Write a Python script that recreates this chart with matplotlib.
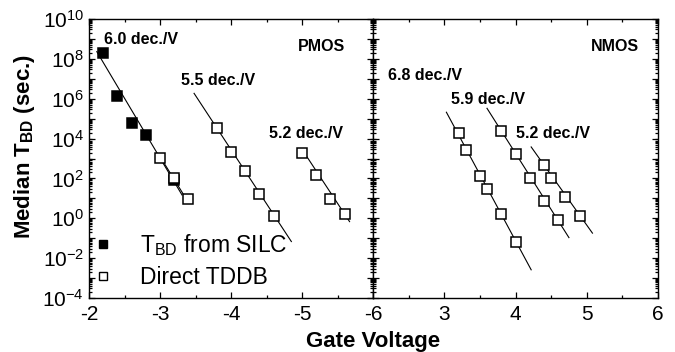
import math
import matplotlib
matplotlib.use("Agg")
import matplotlib.pyplot as plt
from matplotlib.ticker import LogLocator, FixedLocator, FuncFormatter, MultipleLocator, NullFormatter

plt.rcParams['font.family'] = ['Liberation Sans', 'DejaVu Sans']
plt.rcParams['mathtext.fontset'] = 'custom'
plt.rcParams['mathtext.rm'] = 'Liberation Sans'
plt.rcParams['mathtext.bf'] = 'Liberation Sans:bold'
plt.rcParams['mathtext.it'] = 'Liberation Sans:italic'

# ---------------- data ----------------
# PMOS, T_BD from SILC (filled)
pm_silc_v = [-2.2, -2.4, -2.6, -2.8, -3.2]
pm_silc_t = [1.9e8, 1.4e6, 6.0e4, 1.45e4, 80]
# PMOS, direct TDDB (open)
pm_d1_v = [-3.0, -3.2, -3.4]
pm_d1_t = [1.07e3, 110, 9.3]
pm_d2_v = [-3.8, -4.0, -4.2, -4.4, -4.6]
pm_d2_t = [3.4e4, 2.2e3, 230, 16.6, 1.3]
pm_d3_v = [-5.0, -5.2, -5.4, -5.6]
pm_d3_t = [1.9e3, 155, 8.9, 1.6]
# NMOS, direct TDDB (open)
nm_d1_v = [3.2, 3.3, 3.5, 3.6, 3.8, 4.0]
nm_d1_t = [1.8e4, 2.75e3, 138, 31, 1.66, 0.063]
nm_d2_v = [3.8, 4.0, 4.2, 4.4, 4.6]
nm_d2_t = [2.4e4, 1.6e3, 110, 7.4, 0.79]
nm_d3_v = [4.4, 4.5, 4.7, 4.9]
nm_d3_t = [490, 110, 12, 1.35]

# fitted lines (end points)
pm_fitA_v = [-2.11, -3.31]; pm_fitA_t = [2.3e8, 14.8]
pm_fitB_v = [-3.0, -3.33];  pm_fitB_t = [1.26e3, 15.8]
pm_fit2_v = [-3.48, -4.85]; pm_fit2_t = [1.86e6, 0.068]
pm_fit3_v = [-5.0, -5.67];  pm_fit3_t = [2.9e3, 0.68]
nm_fit1_v = [3.03, 4.22];   nm_fit1_t = [2.1e5, 2.6e-3]
nm_fit2_v = [3.60, 4.75];   nm_fit2_t = [3.3e5, 0.107]
nm_fit3_v = [4.22, 5.08];   nm_fit3_t = [3.8e3, 0.18]

pm_labels = ["6.0 dec./V", "5.5 dec./V", "5.2 dec./V"]
pm_label_v = [-2.21, -3.30, -4.54]
pm_label_t = [8.9e8, 7.8e6, 1.7e4]
nm_labels = ["6.8 dec./V", "5.9 dec./V", "5.2 dec./V"]
nm_label_v = [2.216, 3.094, 4.01]
nm_label_t = [1.38e7, 8.7e5, 1.7e4]

pm_xticks = [-2, -3, -4, -5, -6]
nm_xticks = [2, 3, 4, 5, 6]
nm_xticklabels = ["-6", "3", "4", "5", "6"]

# ---------------- figure ----------------
fig = plt.figure(figsize=(6.75, 3.52), dpi=100)
W, H = 675, 352
axL = fig.add_axes([89 / W, 1 - 298 / H, 284 / W, 279 / H])
axR = fig.add_axes([373 / W, 1 - 298 / H, 285 / W, 279 / H])

ms = 6.5
mew = 1.1
for ax in (axL, axR):
    ax.set_yscale('log')
    ax.set_ylim(1e-4, 1e10)
    ax.yaxis.set_major_locator(FixedLocator([10.0 ** k for k in range(-4, 11)]))
    ax.yaxis.set_minor_locator(LogLocator(base=10, subs=range(2, 10), numticks=50))
    ax.yaxis.set_minor_formatter(NullFormatter())
    ax.tick_params(which='both', direction='in', top=True, right=True,
                   labelsize=15, width=0.9)
    ax.tick_params(axis='x', which='major', pad=5)
    ax.tick_params(which='major', length=4.5)
    ax.tick_params(which='minor', length=2.5)
    ax.xaxis.set_minor_locator(MultipleLocator(0.5))
    for s in ax.spines.values():
        s.set_linewidth(1.0)

def ylab(v, pos):
    k = int(round(math.log10(v)))
    if k % 2 == 0:
        return r'$\mathregular{10^{%d}}$' % k
    return ''

axL.yaxis.set_major_formatter(FuncFormatter(ylab))
axR.yaxis.set_major_formatter(NullFormatter())

# left panel (PMOS)
axL.set_xlim(-2, -6)
axL.set_xticks(pm_xticks)
axL.set_xticklabels([str(t) for t in pm_xticks[:-1]] + [''])
for fv, ft in [(pm_fitA_v, pm_fitA_t), (pm_fitB_v, pm_fitB_t),
               (pm_fit2_v, pm_fit2_t), (pm_fit3_v, pm_fit3_t)]:
    axL.plot(fv, ft, color='black', lw=0.8)
axL.plot(pm_silc_v, pm_silc_t, 's', color='black', ms=ms, mew=mew, zorder=3)
for dv, dt in [(pm_d1_v, pm_d1_t), (pm_d2_v, pm_d2_t), (pm_d3_v, pm_d3_t)]:
    axL.plot(dv, dt, 's', mfc='white', mec='black', ms=ms, mew=mew, zorder=4)
for s, v, t in zip(pm_labels, pm_label_v, pm_label_t):
    axL.text(v, t, s, fontsize=11.5, fontweight='bold', ha='left', va='center')
axL.text(-4.94, 4e8, "PMOS", fontsize=11.5, fontweight='bold', ha='left', va='center')

# right panel (NMOS)
axR.set_xlim(2, 6)
axR.set_xticks(nm_xticks)
axR.set_xticklabels(nm_xticklabels)
for fv, ft in [(nm_fit1_v, nm_fit1_t), (nm_fit2_v, nm_fit2_t), (nm_fit3_v, nm_fit3_t)]:
    axR.plot(fv, ft, color='black', lw=0.8)
for dv, dt in [(nm_d1_v, nm_d1_t), (nm_d2_v, nm_d2_t), (nm_d3_v, nm_d3_t)]:
    axR.plot(dv, dt, 's', mfc='white', mec='black', ms=ms, mew=mew, zorder=4)
for s, v, t in zip(nm_labels, nm_label_v, nm_label_t):
    axR.text(v, t, s, fontsize=11.5, fontweight='bold', ha='left', va='center')
axR.text(5.056, 4e8, "NMOS", fontsize=11.5, fontweight='bold', ha='left', va='center')

# legend
h1, = axL.plot([], [], 's', color='black', ms=5.2, mew=1.0)
h2, = axL.plot([], [], 's', mfc='white', mec='black', ms=5.2, mew=1.0)
axL.legend([h1, h2], [r'$\mathregular{T_{BD}}$ from SILC', 'Direct TDDB'],
           loc='center left', bbox_to_anchor=(0.009, 0.134), frameon=False,
           fontsize=16.5, handlelength=1.0, handletextpad=1.1, labelspacing=0.35,
           borderaxespad=0.0, borderpad=0.0)

axL.set_ylabel(r'Median $\mathbf{T_{BD}}$ (sec.)', fontsize=16, fontweight='bold', labelpad=4)
axL.yaxis.label.set_y(0.541)
fig.text(373 / W, 1 - 342 / H, 'Gate Voltage', fontsize=16, fontweight='bold',
         ha='center', va='center')

fig.savefig('out.png', dpi=100)
